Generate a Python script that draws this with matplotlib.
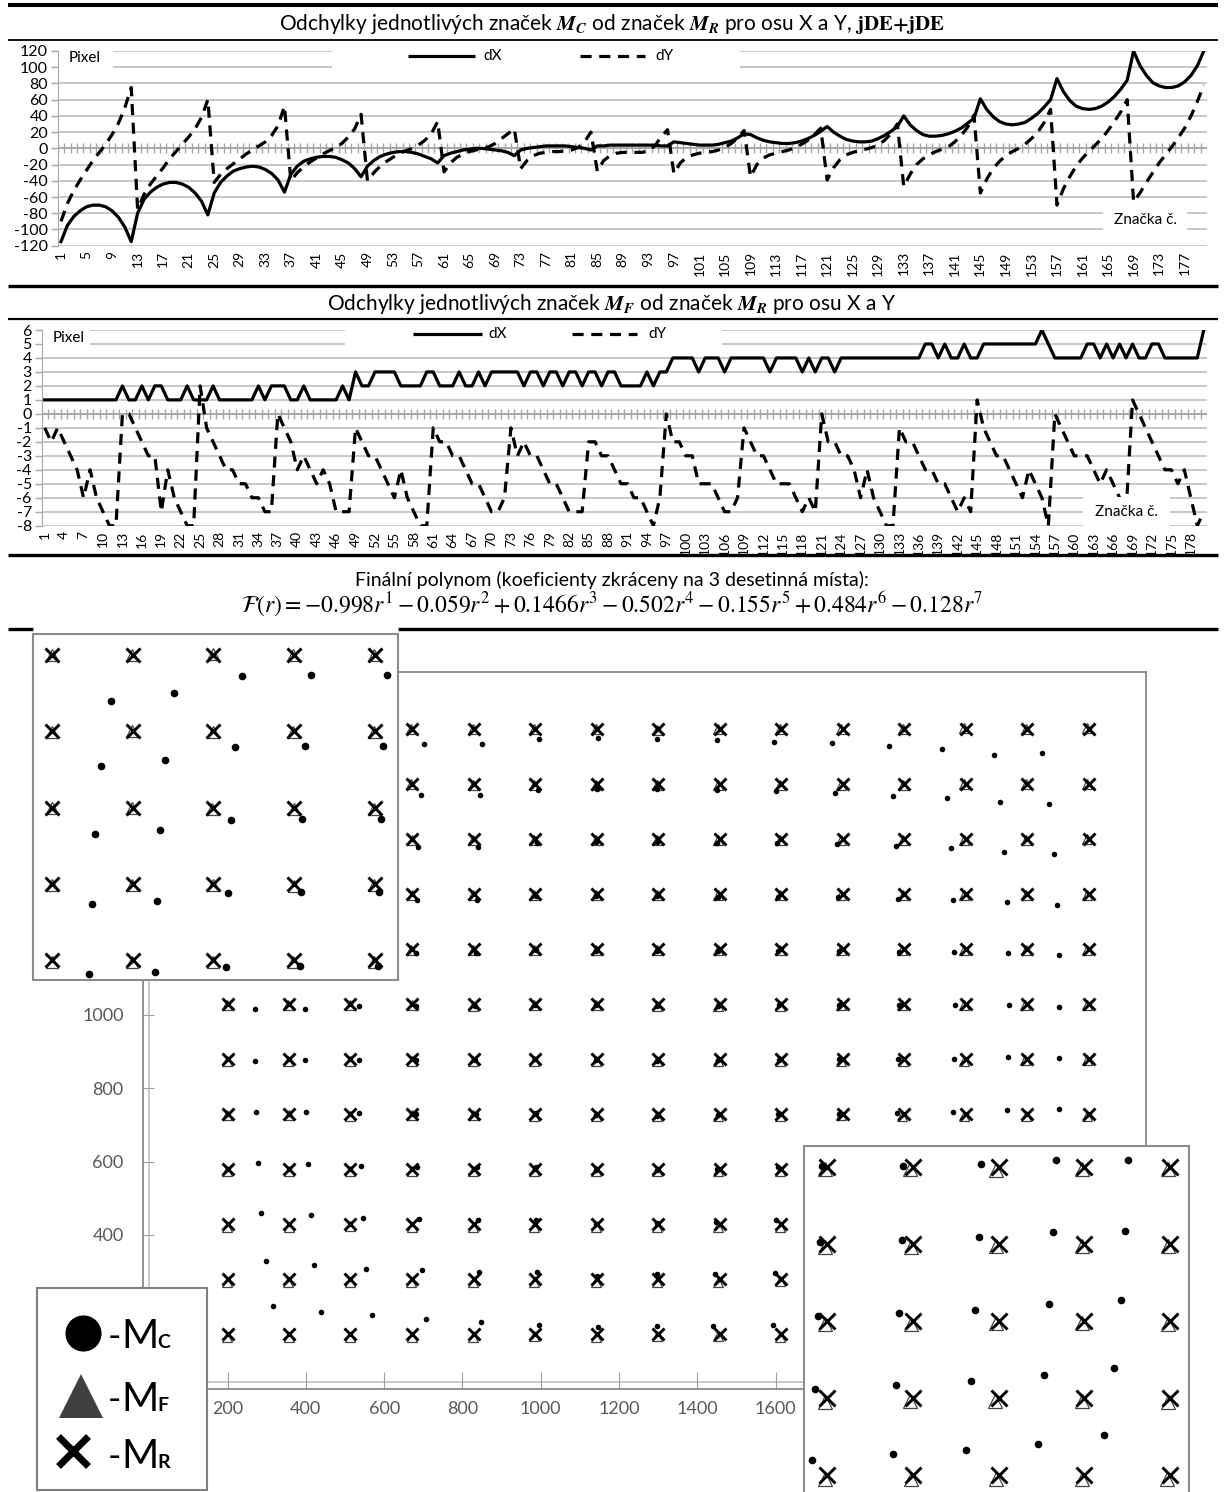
import numpy as np
import matplotlib
matplotlib.use("Agg")
import matplotlib.pyplot as plt
from matplotlib.patches import Rectangle

plt.rcParams["font.family"] = ["Lato", "DejaVu Sans"]
plt.rcParams["mathtext.fontset"] = "stix"
plt.rcParams["axes.unicode_minus"] = False
plt.rcParams["lines.scale_dashes"] = False

W, H = 1224, 1492

# marker numbers 1..180 (15 columns x 12 rows of the calibration grid)
marker_no = np.arange(1, 181)

# deviations of M_C from M_R (jDE+jDE), one line per grid column
dx_c = [
    -115, -95, -84, -77, -72, -70, -70, -72, -77, -85, -97, -115,
    -80, -63, -54, -48, -44, -42, -42, -44, -48, -55, -65, -82,
    -55, -42, -34, -28, -25, -23, -22, -23, -26, -31, -39, -54,
    -32, -22, -16, -13, -11, -10, -10, -11, -14, -18, -25, -35,
    -22, -15, -10, -7, -5, -4, -4, -5, -7, -10, -13, -18,
    -9, -6, -4, -2, -1, 0, 0, -1, -2, -3, -5, -9,
    -2, 0, 1, 2, 3, 3, 3, 3, 2, 1, 0, -2,
    3, 3, 4, 4, 4, 4, 4, 4, 4, 4, 3, 3,
    8, 7, 6, 5, 4, 4, 4, 5, 7, 9, 13, 18,
    17, 13, 10, 8, 7, 6, 6, 7, 9, 12, 16, 21,
    27, 20, 15, 11, 9, 8, 8, 9, 12, 16, 21, 27,
    40, 29, 22, 17, 15, 15, 16, 18, 21, 25, 31, 37,
    61, 48, 39, 33, 30, 29, 30, 32, 37, 43, 51, 60,
    86, 70, 59, 52, 49, 48, 49, 52, 57, 64, 73, 84,
    120, 102, 90, 81, 77, 75, 75, 77, 82, 90, 102, 120,
]
dy_c = [
    -90, -68, -52, -39, -27, -15, -5, 5, 17, 31, 50, 75,
    -75, -57, -44, -34, -24, -13, -4, 5, 14, 24, 38, 60,
    -42, -32, -25, -19, -13, -7, -2, 3, 8, 16, 28, 52,
    -40, -30, -23, -17, -12, -7, -3, 1, 6, 14, 24, 42,
    -40, -30, -22, -16, -11, -6, -3, 0, 4, 10, 18, 33,
    -29, -18, -11, -7, -4, -2, 0, 2, 6, 12, 18, 24,
    -25, -15, -9, -6, -5, -4, -4, -3, -2, 1, 8, 20,
    -28, -15, -9, -6, -5, -5, -5, -5, -3, 3, 14, 23,
    -31, -18, -11, -8, -6, -5, -4, -2, 1, 6, 13, 22,
    -35, -20, -12, -8, -6, -4, -2, 1, 5, 10, 17, 25,
    -39, -24, -14, -8, -5, -3, -1, 1, 4, 10, 18, 30,
    -47, -32, -20, -13, -8, -4, -1, 2, 8, 16, 26, 41,
    -55, -38, -25, -16, -9, -4, 0, 5, 12, 20, 32, 48,
    -70, -50, -35, -22, -12, -4, 4, 12, 22, 33, 45, 60,
    -66, -55, -42, -30, -18, -8, 2, 13, 25, 40, 58, 78,
]

# deviations of M_F from M_R
dx_f = [
    1, 1, 1, 1, 1, 1, 1, 1, 1, 1, 1, 1,
    2, 1, 1, 2, 1, 2, 2, 1, 1, 1, 2, 1,
    1, 1, 2, 1, 1, 1, 1, 1, 1, 2, 1, 2,
    2, 2, 1, 1, 2, 1, 1, 1, 1, 1, 2, 1,
    3, 2, 2, 3, 3, 3, 3, 2, 2, 2, 2, 3,
    3, 2, 2, 2, 3, 2, 2, 3, 2, 3, 3, 3,
    3, 3, 2, 3, 3, 2, 3, 3, 2, 3, 3, 2,
    3, 3, 2, 3, 3, 2, 2, 2, 2, 3, 2, 3,
    3, 4, 4, 4, 4, 3, 4, 4, 4, 3, 4, 4,
    4, 4, 4, 4, 3, 4, 4, 4, 4, 3, 4, 3,
    4, 4, 3, 4, 4, 4, 4, 4, 4, 4, 4, 4,
    4, 4, 4, 4, 5, 5, 4, 5, 4, 4, 5, 4,
    4, 5, 5, 5, 5, 5, 5, 5, 5, 5, 6, 5,
    4, 4, 4, 4, 4, 5, 5, 4, 5, 4, 5, 4,
    5, 4, 4, 5, 5, 4, 4, 4, 4, 4, 4, 6,
]
dy_f = [
    -1, -2, -1, -2, -3, -4, -6, -4, -6, -7, -8, -8,
    0, 0, -1, -2, -3, -3, -7, -4, -6, -7, -8, -8,
    2, -1, -2, -3, -4, -4, -5, -5, -6, -6, -7, -7,
    0, -1, -2, -4, -3, -4, -5, -4, -5, -7, -7, -7,
    -1, -2, -3, -3, -4, -5, -6, -4, -6, -7, -8, -8,
    -1, -2, -2, -3, -3, -4, -5, -5, -6, -7, -7, -6,
    -1, -3, -2, -3, -3, -4, -5, -5, -6, -7, -7, -7,
    -2, -2, -3, -3, -4, -5, -5, -6, -6, -7, -8, -6,
    0, -2, -2, -3, -3, -5, -5, -5, -6, -7, -7, -6,
    -1, -2, -3, -3, -4, -5, -5, -5, -6, -7, -6, -7,
    0, -2, -2, -3, -3, -4, -6, -4, -6, -7, -8, -8,
    -1, -2, -2, -3, -4, -4, -5, -5, -6, -7, -6, -7,
    1, -1, -2, -3, -3, -4, -5, -6, -4, -5, -6, -8,
    0, -1, -2, -3, -3, -3, -4, -5, -4, -5, -6, -7,
    1, 0, -1, -2, -3, -4, -4, -5, -4, -6, -8, -7,
]

# reference grid M_R (column x positions, row y positions)
grid_x = [200, 357, 514, 671, 829, 986, 1143, 1300, 1457, 1614, 1771, 1929, 2086, 2243, 2400]
grid_y = [1780, 1630, 1480, 1330, 1180, 1030, 880, 730, 580, 430, 280, 130]

# axis labels of the scatter that are not hidden behind the insets / legend
scatter_xticks = [0, 200, 400, 600, 800, 1000, 1200, 1400, 1600, 1800, 2000, 2200, 2400]
scatter_xlabels = ["", "200", "400", "600", "800", "1000", "1200", "1400", "1600", "", "", "", ""]
scatter_yticks = [0, 200, 400, 600, 800, 1000, 1200, 1400, 1600, 1800]
scatter_ylabels = ["", "", "400", "600", "800", "1000", "", "", "", ""]

title_c = (r"Odchylky jednotlivých značek $\mathbfit{M_C}$ od značek $\mathbfit{M_R}$"
           r" pro osu X a Y, $\mathbf{jDE{+}jDE}$")
title_f = r"Odchylky jednotlivých značek $\mathbfit{M_F}$ od značek $\mathbfit{M_R}$ pro osu X a Y"
poly_note = "Finální polynom (koeficienty zkráceny na 3 desetinná místa):"
poly = (r"$\mathcal{F}(r) = -0.998r^1 - 0.059r^2 + 0.1466r^3 - 0.502r^4"
        r" - 0.155r^5 + 0.484r^6 - 0.128r^7$")

fig = plt.figure(figsize=(W / 100, H / 100), dpi=100)


def px_axes(x0, y0, x1, y1, **kw):
    return fig.add_axes([x0 / W, 1 - y1 / H, (x1 - x0) / W, (y1 - y0) / H], **kw)


def deviation_chart(box, dx, dy, ylo, yhi, ystep, every, tick_h):
    ax = px_axes(*box)
    ax.set_xlim(0.5, 180.5)
    ax.set_ylim(ylo, yhi)
    yt = np.arange(ylo, yhi + ystep, ystep)
    for y in yt:
        if y != 0:
            ax.axhline(y, color="#c8c8c8", lw=1.4, zorder=0)
    ax.axhline(0, color="#a6a6a6", lw=1.4, zorder=1)
    ax.vlines(np.arange(0.5, 181), -tick_h, tick_h, color="#a6a6a6", lw=1.0, zorder=1)
    ax.plot(marker_no, dx, color="black", lw=2.3, zorder=3)
    ax.plot(marker_no, dy, color="black", lw=2.3, dashes=(8, 5.5), zorder=3)
    ax.set_yticks(yt)
    ax.set_yticklabels([str(int(v)) for v in yt])
    ticks = marker_no[::every]
    ax.set_xticks(ticks)
    ax.set_xticklabels([str(t) for t in ticks], rotation=90)
    ax.tick_params(axis="x", length=0, pad=4, labelsize=10)
    ax.tick_params(axis="y", length=5, color="#a6a6a6", width=1.0, pad=2, labelsize=11.5)
    for s in ("top", "right", "bottom"):
        ax.spines[s].set_visible(False)
    ax.spines["left"].set_color("#a6a6a6")
    return ax


deviation_chart((57.8, 51, 1207, 245.7), dx_c, dy_c, -120, 120, 20, 4, 6.2)
deviation_chart((41.5, 330, 1207, 525.7), dx_f, dy_f, -8, 6, 1, 3, 0.36)

# positions of the markers
rx = np.repeat(grid_x, 12)
ry = np.tile(grid_y, 15)
cx = rx - np.array(dx_c)
cy = ry + np.array(dy_c)
fx = rx - np.array(dx_f)
fy = ry + np.array(dy_f)


def draw_markers(ax, ms_x, ms_dot, ms_tri):
    ax.plot(fx, fy, "^", ms=ms_tri, mfc="none", mec="#444444", mew=0.9, ls="none")
    ax.plot(rx, ry, "x", ms=ms_x, mew=2.1, color="black", ls="none")
    ax.plot(cx, cy, "o", ms=ms_dot, color="black", mew=0, ls="none")


main = px_axes(143, 672, 1146, 1389, zorder=1)
main.set_xlim(-16, 2546)
main.set_ylim(-20, 1935)
main.axhline(0, color="#c0c0c0", lw=1.2, zorder=0)
main.axvline(0, color="#c0c0c0", lw=1.2, zorder=0)
draw_markers(main, 8.5, 4.0, 7)
main.set_xticks(scatter_xticks)
main.set_xticklabels(scatter_xlabels)
main.set_yticks(scatter_yticks)
main.set_yticklabels(scatter_ylabels)
main.tick_params(axis="x", direction="in", length=12, color="#a0a0a0", labelcolor="#595959",
                 labelsize=13, pad=9)
main.tick_params(axis="y", direction="in", length=8, color="#a0a0a0", labelcolor="#595959",
                 labelsize=13, pad=14)
for s in main.spines.values():
    s.set_color("#7f7f7f")
    s.set_linewidth(1.2)

ins1 = px_axes(33, 634, 398, 980, zorder=3)
ins1.set_xlim(163, 873)
ins1.set_ylim(1141, 1821)
draw_markers(ins1, 10.5, 5.5, 9)

ins2 = px_axes(804, 1146, 1189, 1494, zorder=3)
ins2.set_xlim(1729, 2435)
ins2.set_ylim(93, 770)
draw_markers(ins2, 11.5, 5.5, 10)

for ax in (ins1, ins2):
    ax.set_xticks([])
    ax.set_yticks([])
    for s in ax.spines.values():
        s.set_color("#8c8c8c")
        s.set_linewidth(1.5)

# overlay in pixel coordinates
top = fig.add_axes([0, 0, 1, 1], zorder=10)
top.set_xlim(0, W)
top.set_ylim(H, 0)
top.axis("off")

for y, lw, x0, x1 in [(5, 2.9, 8, 1218), (40, 1.3, 8, 1218), (286, 2.4, 8, 1218),
                      (319, 1.6, 8, 1218), (555, 2.4, 8, 1218), (629, 2.4, 8, 33),
                      (629, 2.4, 398, 1218)]:
    top.plot([x0, x1], [y, y], color="black", lw=lw, solid_capstyle="butt")

top.text(612, 24, title_c, ha="center", va="center", fontsize=15)
top.text(612, 304, title_f, ha="center", va="center", fontsize=15)


def chart_boxes(pix_box, leg_box, zn_box, leg_y, solid, dashed, dx_at, dy_at):
    for (x0, y0, x1, y1) in (pix_box, leg_box, zn_box):
        top.add_patch(Rectangle((x0, y0), x1 - x0, y1 - y0, facecolor="white", edgecolor="none"))
    top.text(pix_box[0] + 10, (pix_box[1] + pix_box[3]) / 2 + 1, "Pixel", ha="left", va="center",
             fontsize=11)
    top.plot(solid, [leg_y, leg_y], color="black", lw=2.3, solid_capstyle="butt")
    top.plot(dashed, [leg_y, leg_y], color="black", lw=2.3, dashes=(8, 5.5))
    top.text(dx_at, leg_y, "dX", ha="left", va="center", fontsize=11)
    top.text(dy_at, leg_y, "dY", ha="left", va="center", fontsize=11)
    top.text((zn_box[0] + zn_box[2]) / 2, (zn_box[1] + zn_box[3]) / 2, "Značka č.",
             ha="center", va="center", fontsize=11)


chart_boxes((58.5, 45, 113, 70), (332, 45, 740, 70), (1103, 205, 1187, 236), 56,
            [408, 475], [580, 645], 483, 655)
chart_boxes((42.5, 323, 90, 352), (345, 323, 722, 352), (1083, 497, 1170, 528), 334,
            [413, 482], [572, 637], 488, 648)

top.text(612, 580, poly_note, ha="center", va="center", fontsize=14)
top.text(612, 604, poly, ha="center", va="center", fontsize=17)

# marker legend
top.add_patch(Rectangle((37, 1288), 170, 202, facecolor="white", edgecolor="#7f7f7f", lw=1.5))
top.plot([83], [1333], "o", ms=25, color="black")
top.plot([81], [1396], "^", ms=32, color="#404040", mew=0)
top.plot([73], [1451], "x", ms=22, mew=5, color="black")
for y, sub in [(1348, "C"), (1411, "F"), (1468, "R")]:
    top.text(108, y, "-", ha="left", va="baseline", fontsize=26)
    top.text(121, y, "M", ha="left", va="baseline", fontsize=29)
    top.text(157, y, sub, ha="left", va="baseline", fontsize=14, fontweight="bold")

fig.savefig("out.png", dpi=100)
